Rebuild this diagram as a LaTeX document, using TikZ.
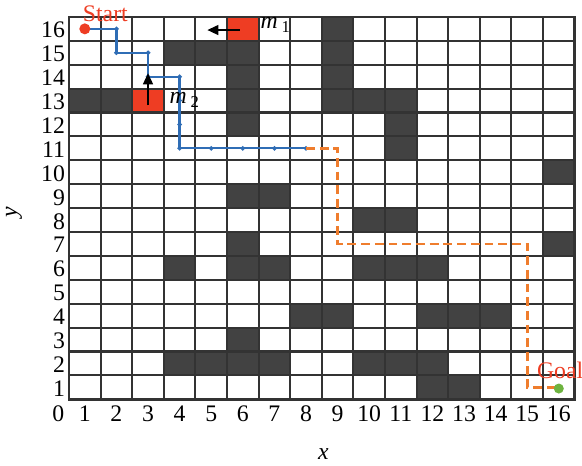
\documentclass[tikz,border=0pt]{standalone}
\usepackage{fontspec}
\setmainfont{Liberation Serif}
\usetikzlibrary{arrows.meta}
\definecolor{obst}{HTML}{424242}
\definecolor{mover}{HTML}{EE3D23}
\definecolor{gridline}{HTML}{333333}
\definecolor{routeblue}{HTML}{2F6DB5}
\definecolor{routeorange}{HTML}{EF7D2D}
\definecolor{goalgreen}{HTML}{6DB33F}
\begin{document}
\begin{tikzpicture}[x=0.632cm, y=0.478cm, font=\fontsize{13.5}{16}\selectfont,
  mcell/.style={fill=mover, minimum width=0.632cm, minimum height=0.478cm, inner sep=0},
  move/.style={-{Triangle[length=0.22cm, width=0.2cm]}, line width=0.85pt, black},
  tick/.style={inner sep=0}]
\useasboundingbox (-2.184,-2.791) rectangle (16.234,16.707);
\foreach \c/\r in {9/16, 4/15, 5/15, 6/15, 9/15, 6/14, 9/14, 1/13, 2/13, 6/13, 9/13, 10/13, 11/13,
  6/12, 11/12, 11/11, 16/10, 6/9, 7/9, 10/8, 11/8, 6/7, 16/7, 4/6, 6/6, 7/6, 10/6, 11/6, 12/6,
  8/4, 9/4, 12/4, 13/4, 14/4, 6/3, 4/2, 5/2, 6/2, 7/2, 10/2, 11/2, 12/2, 12/1, 13/1}
  \fill[obst] (\c-1,\r-1) rectangle (\c,\r);
\node[mcell] (m1) at (5.5,15.5) {};
\node[mcell] (m2) at (2.5,12.5) {};
\foreach \k in {1,...,15} {
  \draw[gridline, line width=1.2pt] (\k,0) -- (\k,16);
  \draw[gridline, line width=1.2pt] (0,\k) -- (16,\k);
}
\draw[gridline, line width=1.5pt] (0,0) rectangle (16,16);

\foreach \k in {1,...,16} {
  \node[tick, anchor=east] (row\k) at (-0.12,\k-0.55) {\k};
  \node[tick] (col\k) at (\k-0.5,-0.6) {\k};
}
\node[tick] (orig) at (-0.34,-0.6) {0};
\node[rotate=90] (ylab) at (-1.74,7.84) {\textit{y}};
\node (xlab) at (8.05,-2.29) {\textit{x}};

\draw[routeblue, line width=1.3pt] plot[mark=*, mark size=0.5pt] coordinates {(0.5,15.5) (1.5,15.5) (1.5,14.5) (2.5,14.5)
  (2.5,13.5) (3.5,13.5) (3.5,12.5) (3.5,11.5) (3.5,10.5) (4.5,10.5) (5.5,10.5) (6.5,10.5) (7.5,10.5)};
\draw[routeorange, line width=1.5pt, dash pattern=on 5pt off 2.8pt] (7.5,10.5) -- (8.5,10.5) -- (8.5,6.5)
  -- (14.5,6.5) -- (14.5,0.5) -- (15.5,0.5);

\coordinate (s) at (0.5,15.5);
\coordinate (g) at (15.5,0.45);
\fill[mover] (s) circle (0.11cm);
\fill[goalgreen] (g) circle (0.1cm);
\node[tick, anchor=base, text=mover] (start) at (1.15,15.8) {Start};
\node[tick, anchor=base west, text=mover] (goal) at (14.8,0.88) {Goal};

\coordinate (m1tail) at (5.41,15.45);
\coordinate (m1tip) at (4.38,15.45);
\coordinate (m2tail) at (2.5,12.3);
\coordinate (m2tip) at (2.5,13.64);
\draw[move] (m1tail) -- (m1tip);
\draw[move] (m2tail) -- (m2tip);
\node[tick, anchor=base west] (m1lab) at (6.05,15.52) {\textit{m}\,\textsubscript{1}};
\node[tick, anchor=base west] (m2lab) at (3.17,12.36) {\textit{m}\,\textsubscript{2}};
\end{tikzpicture}
\end{document}
